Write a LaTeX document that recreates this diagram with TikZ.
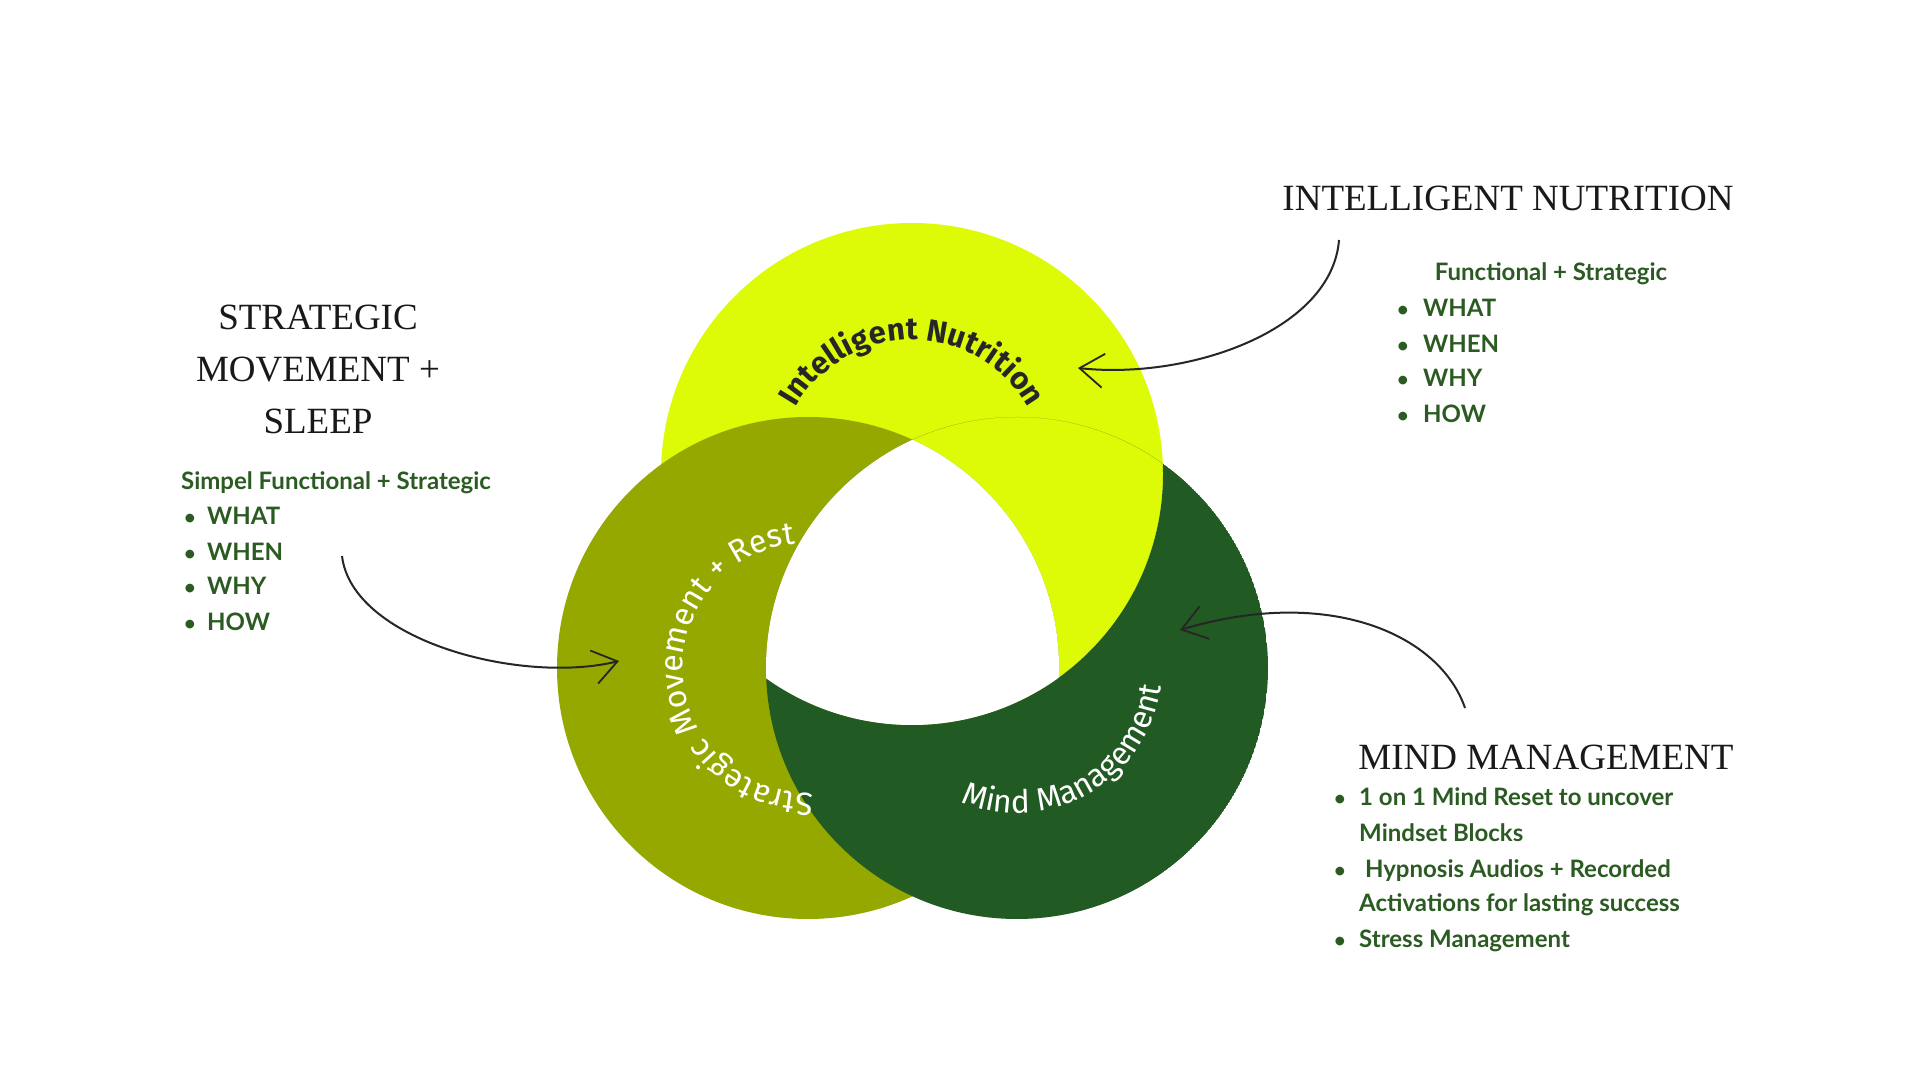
\documentclass[tikz,border=0pt]{standalone}
\usepackage{fontspec}
\setmainfont{Liberation Serif}
\newfontfamily\lato{Lato}
\newfontfamily\fira{Fira Sans}
\usetikzlibrary{decorations.text,arrows.meta}
\definecolor{cyel}{HTML}{DDFB06}
\definecolor{colive}{HTML}{95A800}
\definecolor{cdark}{HTML}{215A22}
\definecolor{ctxt}{HTML}{2B5B22}
\begin{document}
\begin{tikzpicture}[x=1pt,y=1pt,
  head/.style={font=\fontsize{37}{52}\selectfont, text=black!90, align=center},
  body/.style={font=\lato\bfseries\fontsize{24}{28}\selectfont, text=ctxt, anchor=base west, inner sep=0},
  bul/.style={font=\lato\bfseries\fontsize{20}{28}\selectfont, text=ctxt, anchor=base, inner sep=0},
  hand/.style={draw=black!85, line width=2pt, -{Straight Barb[length=24pt,width=34pt,line width=1.8pt]}}]
\useasboundingbox (0,0) rectangle (1920,1080);
\fill[white] (0,0) rectangle (1920,1080);
% circles
\coordinate (cy) at (912,606);
\coordinate (co) at (808,412);
\coordinate (cd) at (1017,412);
\fill[cyel] (cy) circle (251);
\fill[colive] (co) circle (251);
\begin{scope}[even odd rule]
  \clip (cd) circle (251) (cy) circle (251);
  \fill[cdark] (cd) circle (251);
\end{scope}
\begin{scope}
  \clip (cy) circle (251);
  \clip (cd) circle (251);
  \fill[white] (co) circle (251);
\end{scope}
% curved labels
\path[decorate, decoration={text along path, text align=center,
  text={|\fira\bfseries\fontsize{31}{33}\selectfont\color{black!85}|Intelligent Nutrition}}]
  (cy) ++(155:134) arc[start angle=155, end angle=25, radius=134];
\path[decorate, decoration={text along path, text align=center,
  text={|\fira\fontsize{32}{34}\selectfont\color{white}|Strategic Movement + Rest}}]
  (co) ++(278:125) arc[start angle=278, end angle=90, radius=125];
\path[decorate, decoration={text along path, text align=center,
  text={|\fira\fontsize{32}{34}\selectfont\color{white}|Mind Management}}]
  (cd) ++(240:145) arc[start angle=240, end angle=360, radius=145];
% headings
\node[head] (h1) at (1508,882) {INTELLIGENT NUTRITION};
\node[head] (h2) at (318,711) {STRATEGIC\\MOVEMENT +\\SLEEP};
\node[head] (h3) at (1546,323) {MIND MANAGEMENT};
% lists
\node[body, anchor=base] (n0) at (1551,799) {Functional + Strategic};
\foreach \t/\y [count=\i] in {WHAT/763,WHEN/727,WHY/693,HOW/657}{
  \node[bul] (nb\i) at (1403,\y) {\textbullet};
  \node[body] (nt\i) at (1423,\y) {\t};}
\node[body, anchor=base] (s0) at (336,590) {Simpel Functional + Strategic};
\foreach \t/\y [count=\i] in {WHAT/555,WHEN/519,WHY/485,HOW/449}{
  \node[bul] (sb\i) at (190,\y) {\textbullet};
  \node[body] (st\i) at (207,\y) {\t};}
\foreach \t/\y/\b [count=\i] in {1 on 1 Mind Reset to uncover/274/1,Mindset Blocks/239/0,{\ Hypnosis Audios + Recorded}/203/1,Activations for lasting success/169/0,Stress Management/133/1}{
  \node[body] (mt\i) at (1359,\y) {\t};
  \ifnum\b=1 \node[bul] (mb\i) at (1340,\y) {\textbullet};\fi}
% hand-drawn arrows
\coordinate (a1s) at (1339,840); \coordinate (a1e) at (1078,712);
\coordinate (a2s) at (342,524);  \coordinate (a2e) at (619,419);
\coordinate (a3s) at (1465,372); \coordinate (a3e) at (1180,450);
\draw[hand] (a1s) .. controls (1332,750) and (1190,700) .. (a1e);
\draw[hand] (a2s) .. controls (352,440) and (520,395) .. (a2e);
\draw[hand] (a3s) .. controls (1440,445) and (1330,495) .. (a3e);
\end{tikzpicture}
\end{document}
